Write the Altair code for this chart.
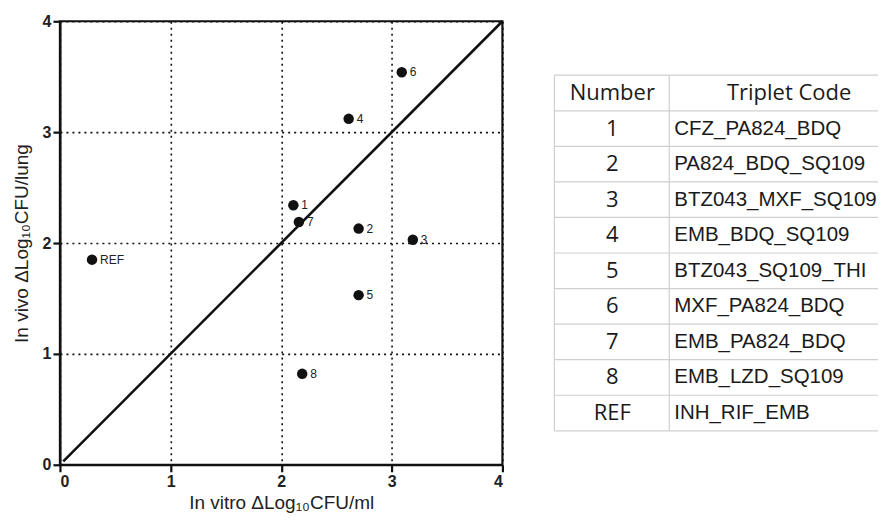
import altair as alt
import pandas as pd

# ---- scatter data ----
point_labels = ["1", "2", "3", "4", "5", "6", "7", "8", "REF"]
in_vitro = [2.11, 2.70, 3.19, 2.61, 2.70, 3.09, 2.16, 2.19, 0.29]
in_vivo = [2.34, 2.13, 2.03, 3.12, 1.53, 3.54, 2.19, 0.82, 1.85]

# identity line
line_x = [0.03, 4.0]
line_y = [0.03, 4.0]

# ---- table data ----
table_numbers = ["1", "2", "3", "4", "5", "6", "7", "8", "REF"]
table_codes = ["CFZ_PA824_BDQ", "PA824_BDQ_SQ109", "BTZ043_MXF_SQ109", "EMB_BDQ_SQ109",
               "BTZ043_SQ109_THI", "MXF_PA824_BDQ", "EMB_PA824_BDQ", "EMB_LZD_SQ109",
               "INH_RIF_EMB"]
header = ["Number", "Triplet Code"]
axis_ticks = [0, 1, 2, 3, 4]

pts = pd.DataFrame({"x": in_vitro, "y": in_vivo, "label": point_labels})
diag = pd.DataFrame({"x": line_x, "y": line_y})

W, H = 443, 444
xs = alt.Scale(domain=[0, 4], nice=False, zero=False)
ys = alt.Scale(domain=[0, 4], nice=False, zero=False)

x_axis = alt.Axis(values=axis_ticks, title="In vitro ΔLog₁₀CFU/ml", format="d",
                  titlePadding=4, labelPadding=2)
y_axis = alt.Axis(values=axis_ticks, title="In vivo ΔLog₁₀CFU/lung", format="d",
                  titlePadding=11, labelPadding=2)

base_pts = alt.Chart(pts)
circles = base_pts.mark_circle(size=110, color="#111", opacity=1).encode(
    x=alt.X("x:Q", scale=xs, axis=x_axis),
    y=alt.Y("y:Q", scale=ys, axis=y_axis),
)
labels = base_pts.mark_text(align="left", baseline="middle", dx=8, fontSize=12,
                            font="Liberation Sans", color="#222").encode(
    x=alt.X("x:Q", scale=xs, axis=x_axis), y=alt.Y("y:Q", scale=ys, axis=y_axis),
    text="label:N")
line = alt.Chart(diag).mark_line(color="#111", strokeWidth=2.6).encode(
    x=alt.X("x:Q", scale=xs, axis=x_axis), y=alt.Y("y:Q", scale=ys, axis=y_axis))

scatter = alt.layer(line, circles, labels).properties(
    width=W, height=H, view=alt.ViewBackground(stroke="#111", strokeWidth=2.2))

# ---- table panel ----
TW = 324
rows = len(table_numbers) + 1
tbl = pd.DataFrame({
    "row": list(range(1, rows)),
    "num": table_numbers,
    "code": table_codes,
})
hdr = pd.DataFrame({"row": [0], "h1": [header[0]], "h2": [header[1]]})
hlines = pd.DataFrame({"y": [i - 0.5 for i in range(rows + 1)]})
vlines = pd.DataFrame({"xp": [0, 115], "y": [-0.5, -0.5], "y2": [rows - 0.5, rows - 0.5]})

ty = alt.Scale(domain=[-2.017, 10.455], nice=False, zero=False, reverse=True)

hrules = alt.Chart(hlines).mark_rule(color="#cfcfcf", strokeWidth=1.2).encode(
    y=alt.Y("y:Q", scale=ty, axis=None), x=alt.value(0), x2=alt.value(TW))
vrules = alt.Chart(vlines).mark_rule(color="#cfcfcf", strokeWidth=1.2).encode(
    x=alt.X("xp:Q", scale=alt.Scale(domain=[0, TW], range=[0, TW], nice=False, zero=False),
            axis=None),
    y=alt.Y("y:Q", scale=ty, axis=None), y2="y2:Q")
num_text = alt.Chart(tbl).mark_text(align="center", baseline="middle", font="Open Sans",
                                    fontSize=22, color="#1a1a1a").encode(
    y=alt.Y("row:Q", scale=ty, axis=None), x=alt.value(58), text="num:N")
code_text = alt.Chart(tbl).mark_text(align="left", baseline="middle", font="Liberation Sans",
                                     fontSize=20.5, color="#1a1a1a").encode(
    y=alt.Y("row:Q", scale=ty, axis=None), x=alt.value(120), text="code:N")
h1_text = alt.Chart(hdr).mark_text(align="center", baseline="middle", font="Open Sans",
                                   fontSize=22, color="#1a1a1a").encode(
    y=alt.Y("row:Q", scale=ty, axis=None), x=alt.value(58), text="h1:N")
h2_text = alt.Chart(hdr).mark_text(align="center", baseline="middle", font="Open Sans",
                                   fontSize=22, color="#1a1a1a").encode(
    y=alt.Y("row:Q", scale=ty, axis=None), x=alt.value(235), text="h2:N")

table = alt.layer(hrules, vrules, num_text, code_text, h1_text, h2_text).properties(
    width=TW, height=H)

chart = alt.hconcat(scatter, table, spacing=43).properties(
    padding={"left": 3, "top": 3, "right": 0, "bottom": 0}, background="white"
).configure_view(stroke="transparent").configure_axis(
    grid=True, gridDash=[2, 4], gridColor="#111", gridWidth=1.6,
    domainColor="#111", domainWidth=2.2, tickColor="#111", tickWidth=2.2, tickSize=7,
    labelFont="Liberation Sans", labelFontWeight="bold", labelFontSize=16, labelColor="#222",
    titleFont="Liberation Sans", titleFontWeight="normal", titleFontSize=19, titleColor="#222",
)

chart.save("out.html", embed_options={"renderer": "svg", "actions": False})
